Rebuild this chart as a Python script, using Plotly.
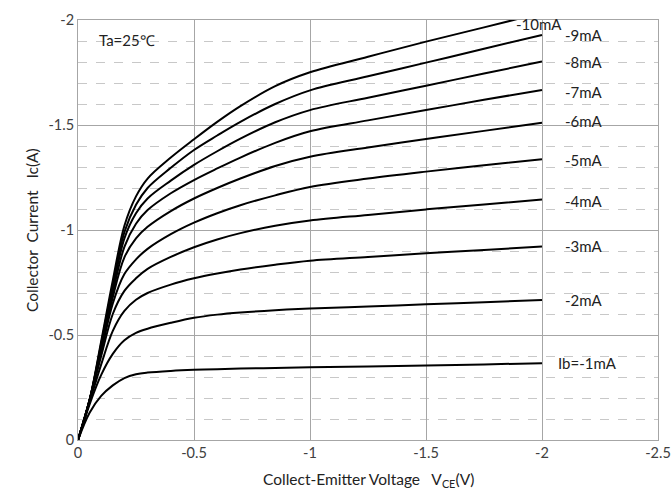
import plotly.graph_objects as go

# Collector-emitter voltage sample points (V)
vce = [0, -0.05, -0.1, -0.15, -0.2, -0.25, -0.3, -0.4, -0.5, -0.6, -0.7, -0.85, -1.0, -1.25, -1.5, -1.75, -2.0]

# Collector current (A) for each base current curve
ic_1mA = [0, -0.13, -0.21, -0.26, -0.295, -0.313, -0.321, -0.329, -0.334, -0.337, -0.340, -0.343, -0.346, -0.350, -0.355, -0.360, -0.366]
ic_2mA = [0, -0.17, -0.31, -0.41, -0.475, -0.51, -0.53, -0.558, -0.582, -0.597, -0.607, -0.618, -0.626, -0.636, -0.646, -0.656, -0.667]
ic_3mA = [0, -0.18, -0.36, -0.52, -0.615, -0.668, -0.70, -0.74, -0.77, -0.793, -0.812, -0.835, -0.854, -0.872, -0.889, -0.905, -0.921]
ic_4mA = [0, -0.19, -0.40, -0.60, -0.71, -0.77, -0.815, -0.872, -0.918, -0.955, -0.985, -1.02, -1.045, -1.072, -1.098, -1.122, -1.145]
ic_5mA = [0, -0.19, -0.42, -0.65, -0.79, -0.86, -0.91, -0.98, -1.035, -1.08, -1.118, -1.165, -1.205, -1.245, -1.278, -1.308, -1.337]
ic_6mA = [0, -0.19, -0.43, -0.68, -0.87, -0.96, -1.015, -1.09, -1.15, -1.2, -1.245, -1.305, -1.349, -1.393, -1.433, -1.472, -1.511]
ic_7mA = [0, -0.19, -0.44, -0.70, -0.92, -1.03, -1.095, -1.175, -1.238, -1.293, -1.345, -1.415, -1.47, -1.522, -1.571, -1.62, -1.667]
ic_8mA = [0, -0.19, -0.45, -0.72, -0.96, -1.08, -1.15, -1.235, -1.31, -1.375, -1.435, -1.513, -1.571, -1.63, -1.687, -1.745, -1.802]
ic_9mA = [0, -0.19, -0.46, -0.74, -0.99, -1.12, -1.2, -1.296, -1.381, -1.45, -1.515, -1.6, -1.665, -1.732, -1.797, -1.863, -1.929]
ic_10mA = [0, -0.19, -0.47, -0.76, -1.02, -1.16, -1.245, -1.345, -1.432, -1.515, -1.59, -1.685, -1.751, -1.825, -1.897, -1.965, -2.034]

curves = [ic_1mA, ic_2mA, ic_3mA, ic_4mA, ic_5mA, ic_6mA, ic_7mA, ic_8mA, ic_9mA, ic_10mA]
curve_labels = ["Ib=-1mA", "-2mA", "-3mA", "-4mA", "-5mA", "-6mA", "-7mA", "-8mA", "-9mA", "-10mA"]
label_x = [-2.06, -2.09, -2.09, -2.09, -2.09, -2.09, -2.09, -2.09, -2.09, -1.88]
label_y = [-0.367, -0.667, -0.924, -1.138, -1.333, -1.519, -1.657, -1.80, -1.929, -1.98]

x_tickvals = [0, -0.5, -1, -1.5, -2, -2.5]
x_ticktext = ["0", "-0.5", "-1", "-1.5", "-2", "-2.5"]
y_tickvals = [0, -0.5, -1, -1.5, -2]
y_ticktext = ["0", "-0.5", "-1", "-1.5", "-2"]

FONT = "Lato, 'Open Sans', sans-serif"

fig = go.Figure()
for ic in curves:
    fig.add_trace(go.Scatter(
        x=vce, y=ic, mode="lines",
        line=dict(color="black", width=2, shape="spline", smoothing=1.0),
        showlegend=False, hoverinfo="skip",
    ))

for txt, lx, ly in zip(curve_labels, label_x, label_y):
    fig.add_annotation(x=lx, y=ly, text=txt, showarrow=False, xanchor="left",
                       yanchor="middle", font=dict(size=15, color="#222222", family=FONT))

fig.add_annotation(x=-0.08, y=-1.905, text="Ta=25℃", showarrow=False, xanchor="left",
                   yanchor="middle", font=dict(size=15, color="#222222", family=FONT))

# Axis titles
fig.add_annotation(xref="paper", yref="paper", x=0.5, y=0, yshift=-40,
                   text="Collect-Emitter Voltage   V<sub>CE</sub>(V)", showarrow=False,
                   xanchor="center", yanchor="middle",
                   font=dict(size=15.5, color="#222222", family=FONT))
fig.add_annotation(xref="paper", yref="paper", x=0, y=0.5, xshift=-46,
                   text="Collector  Current   Ic(A)", showarrow=False, textangle=-90,
                   xanchor="center", yanchor="middle",
                   font=dict(size=15.5, color="#222222", family=FONT))

fig.update_layout(
    width=672, height=494,
    margin=dict(l=78, r=14, t=20, b=54, autoexpand=False),
    paper_bgcolor="white", plot_bgcolor="white",
    font=dict(family=FONT, size=14, color="#333333"),
    xaxis=dict(
        range=[0, -2.5], tickvals=x_tickvals, ticktext=x_ticktext,
        showgrid=True, gridcolor="#a6a6a6", gridwidth=1,
        showline=True, linecolor="#a6a6a6", linewidth=1, mirror=True,
        zeroline=False, ticks="", automargin=False,
        tickfont=dict(size=14.5, color="#404040"),
    ),
    yaxis=dict(
        range=[0, -2], tickvals=y_tickvals, ticktext=y_ticktext,
        showgrid=True, gridcolor="#a6a6a6", gridwidth=1,
        showline=True, linecolor="#a6a6a6", linewidth=1, mirror=True,
        zeroline=False, ticks="", automargin=False,
        minor=dict(dtick=0.1, showgrid=True, gridcolor="#c8c8c8", griddash="dash", gridwidth=1),
        tickfont=dict(size=14.5, color="#404040"),
    ),
)

fig.write_html("out.html", config={"displayModeBar": False},
               post_script="document.body.style.margin='0';document.body.style.overflow='hidden';")
